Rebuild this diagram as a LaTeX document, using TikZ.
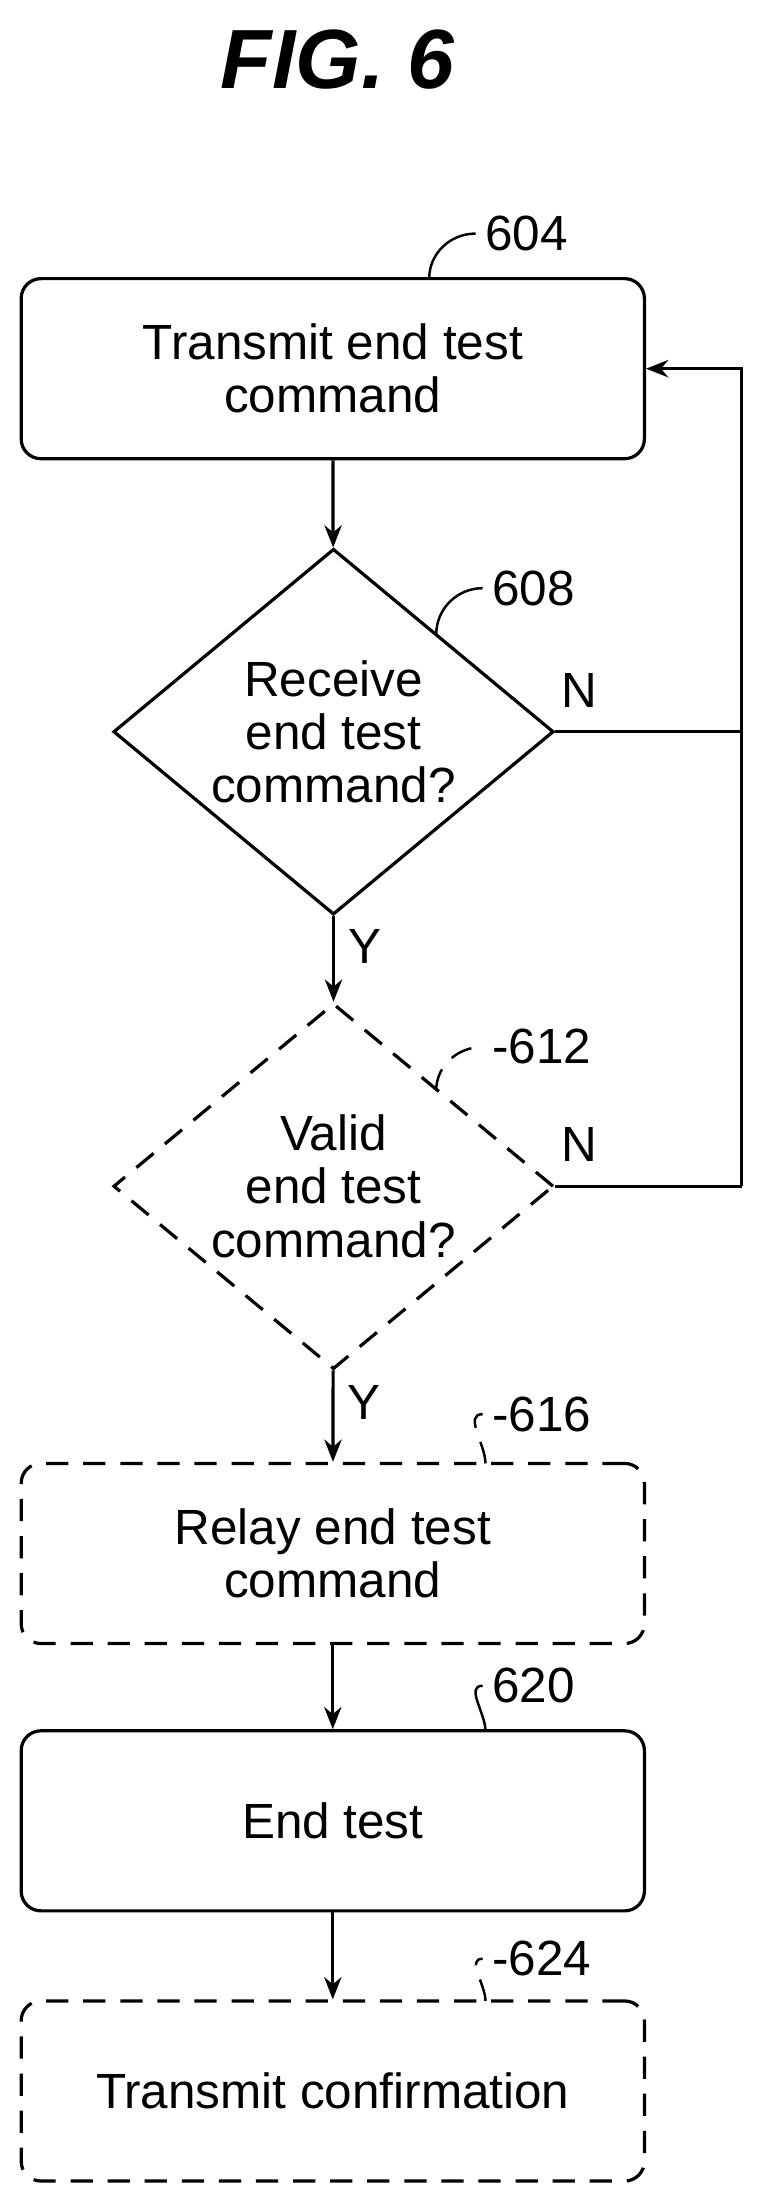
\documentclass[tikz,border=0pt]{standalone}
\usepackage{fontspec}
\setmainfont{Liberation Sans}
\usetikzlibrary{positioning,shapes.geometric,arrows.meta}

\begin{document}
\begin{tikzpicture}[x=0.02cm,y=-0.02cm,thick,line width=1.3pt,
  font=\fontsize{20}{21.5}\selectfont,
  stepbox/.style={rectangle,rounded corners=8pt,draw,minimum width=8.86cm,minimum height=2.56cm,align=center},
  testnode/.style={diamond,draw,minimum width=6.26cm,minimum height=5.2cm,aspect=1.2,inner sep=0pt,align=center},
  opt/.style={dash pattern=on 9pt off 6pt},
  ->,>={Stealth[length=9pt,width=7pt]}
]
\useasboundingbox (0,0) rectangle (545,1572);
\node[font=\fontsize{34}{40}\selectfont\bfseries\itshape] (title) at (240,42) {FIG. 6};

% the steps
\node[stepbox] (s604) at (236.5,262) {Transmit end test\\command};
\node[testnode] (s608) at (237,520) {Receive\\end test\\command?};
\node[testnode,opt] (s612) at (237,843) {Valid\\end test\\command?};
\node[stepbox,opt] (s616) at (236.5,1104) {Relay end test\\command};
\node[stepbox] (s620) at (236.5,1294) {End test};
\node[stepbox,opt] (s624) at (236.5,1486) {Transmit confirmation};

% the reference numbers
\node[anchor=west] (n604) at (338,166) {604};
\node[anchor=west] (n608) at (343,418) {608};
\node[anchor=west] (n612) at (343,744) {-612};
\node[anchor=west] (n616) at (343,1005) {-616};
\node[anchor=west] (n620) at (343,1198) {620};
\node[anchor=west] (n624) at (343,1392) {-624};
\coordinate (c604) at (305,198);
\coordinate (c608) at (310,451);
\coordinate (c612) at (310,775);
\coordinate (c616) at (345,1040);
\coordinate (c620) at (345,1230);
\coordinate (c624) at (345,1422);
\coordinate (back) at (527,262);
\coordinate (j608) at (527,520);
\coordinate (j612) at (527,843);

% the flow
\draw (s604) -- (s608);
\draw (s608) -- node[pos=0.35,right=2pt] {Y} (s612);
\draw (s612) -- node[pos=0.35,right=2pt] {Y} (s616);
\draw (s616) -- (s620);
\draw (s620) -- (s624);
\draw[-] (s608.east) -- node[pos=0.13,above=6pt] {N} (j608);
\draw[-] (s612.east) -- node[pos=0.13,above=6pt] {N} (j612);
\draw (j612) -- (back) -- (s604.east |- back);

% the leaders
\begin{scope}[-,line width=1pt]
\draw (c604) to[out=90,in=180] (n604.west);
\draw (c608) to[out=90,in=180] (n608.west);
\draw[opt] (c612) to[out=90,in=180] (n612.west);
\draw[opt] (c616) to[out=90,in=180] (n616.west);
\draw (c620) to[out=90,in=180] (n620.west);
\draw[opt] (c624) to[out=90,in=180] (n624.west);
\end{scope}
\end{tikzpicture}
\end{document}
